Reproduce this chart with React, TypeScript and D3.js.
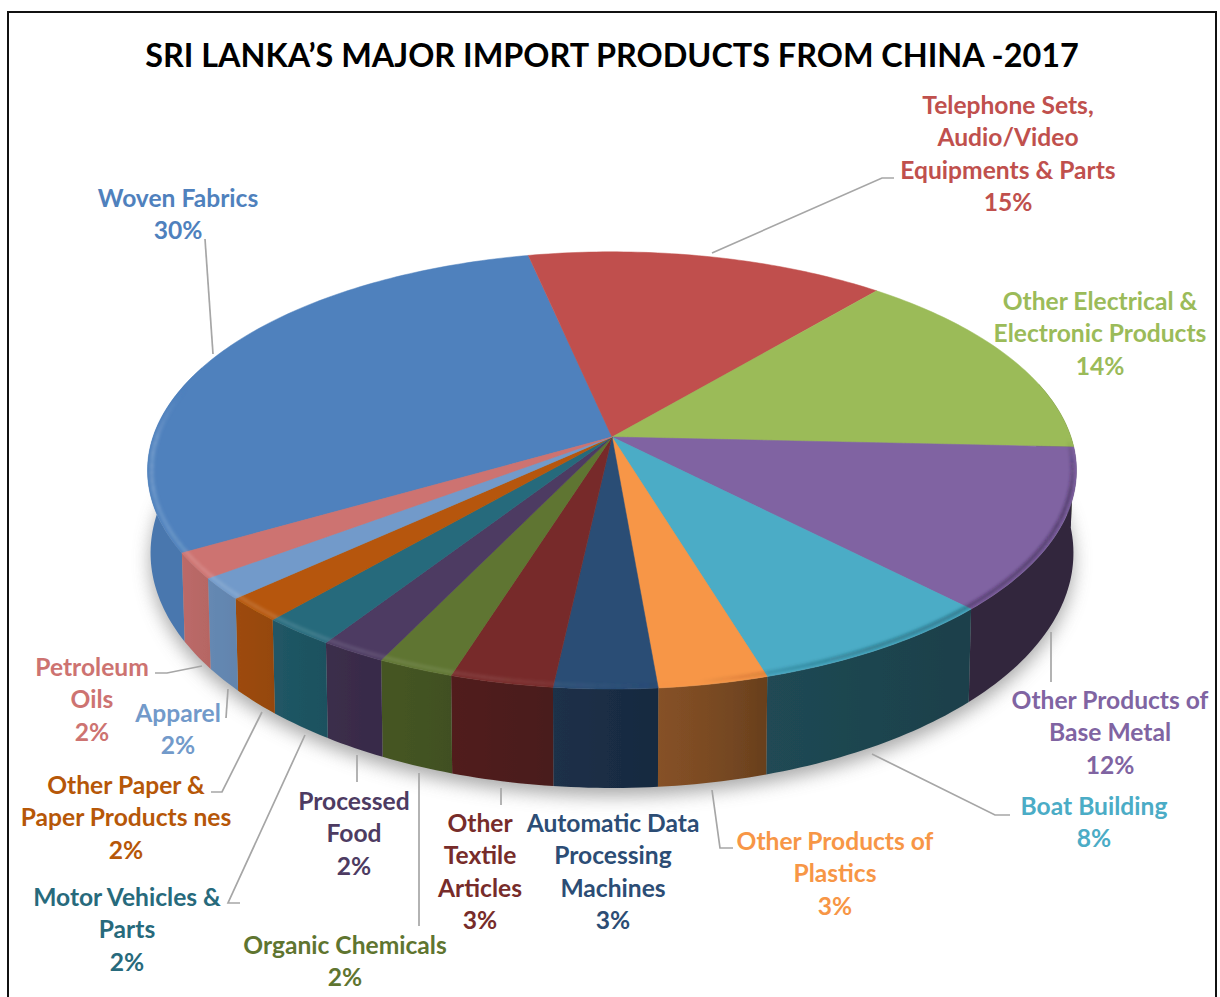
import { useMemo } from "react"
import * as d3 from "d3"

const categories = [
  "Woven Fabrics",
  "Telephone Sets, Audio/Video Equipments & Parts",
  "Other Electrical & Electronic Products",
  "Other Products of Base Metal",
  "Boat Building",
  "Other Products of Plastics",
  "Automatic Data Processing Machines",
  "Other Textile Articles",
  "Organic Chemicals",
  "Processed Food",
  "Motor Vehicles & Parts",
  "Other Paper & Paper Products nes",
  "Apparel",
  "Petroleum Oils",
]
// the printed labels are rounded
const shares = [30.0, 14.5, 14.6, 12.0, 7.6, 3.3, 3.1, 3.1, 2.3, 2.0, 2.2, 1.8, 1.6, 1.9]
const shareLabels = ["30%", "15%", "14%", "12%", "8%", "3%", "3%", "3%", "2%", "2%", "2%", "2%", "2%", "2%"]
const colors = [
  "#4f81bd", "#c0504d", "#9bbb59", "#8064a2", "#4bacc6", "#f79646", "#2c4d75",
  "#772c2a", "#5f7530", "#4d3b62", "#276a7c", "#b65708", "#729aca", "#cd7371",
]

// wrapped label lines, centre x and centre y of the first line
const labelLayout = [
  { lines: ["Woven Fabrics"], x: 178, y: 198 },
  { lines: ["Telephone Sets,", "Audio/Video", "Equipments & Parts"], x: 1008, y: 105 },
  { lines: ["Other Electrical &", "Electronic Products"], x: 1100, y: 301 },
  { lines: ["Other Products of", "Base Metal"], x: 1110, y: 700 },
  { lines: ["Boat Building"], x: 1094, y: 806 },
  { lines: ["Other Products of", "Plastics"], x: 835, y: 841 },
  { lines: ["Automatic Data", "Processing", "Machines"], x: 613, y: 823 },
  { lines: ["Other", "Textile", "Articles"], x: 480, y: 823 },
  { lines: ["Organic Chemicals"], x: 345, y: 945 },
  { lines: ["Processed", "Food"], x: 354, y: 801 },
  { lines: ["Motor Vehicles &", "Parts"], x: 127, y: 897 },
  { lines: ["Other Paper &", "Paper Products nes"], x: 126, y: 785 },
  { lines: ["Apparel"], x: 178, y: 713 },
  { lines: ["Petroleum", "Oils"], x: 92, y: 667 },
]

const leaders: [number, number][][] = [
  [[205, 239], [213, 354]],
  [[894, 178], [882, 178], [712, 253]],
  [[1051, 632], [1051, 682]],
  [[1010, 815], [995, 815], [872, 754]],
  [[733, 848], [720, 848], [712, 790]],
  [[501, 788], [501, 805]],
  [[419, 773], [419, 926]],
  [[357, 755], [357, 782]],
  [[240, 903], [228, 903], [305, 735]],
  [[211, 792], [222, 792], [262, 712]],
  [[226, 718], [228, 689]],
  [[155, 673], [167, 673], [202, 666]],
]

const W = 1220
const H = 997
const FONT = "Lato, 'Noto Sans', sans-serif"
const LINE = 32.5

// perspective projection of the disc, top face and bottom face
const k = 0.153
const topFace = { x0: 612, y0: 437, f: 459, g: 213.5 }
const bottomFace = { x0: 612, y0: 517, f: 456, g: 229.5 }
const rimFace = { x0: 612, y0: 437, f: 455, g: 210.5 }
type Face = typeof topFace

function project(a: number, face: Face): [number, number] {
  const u = Math.sin(a)
  const v = -Math.cos(a)
  const w = 1 - k * v
  return [face.x0 + (face.f * u) / w, face.y0 + (face.g * v) / w]
}

const deg = Math.PI / 180
const line = d3.line<[number, number]>()

function sample(a0: number, a1: number) {
  const n = Math.max(2, Math.ceil((a1 - a0) / deg))
  return d3.range(n + 1).map((i) => a0 + ((a1 - a0) * i) / n)
}

// how dark the side wall gets: lit on the left, in shadow on the right
const wallShade = d3
  .scaleLinear<number>()
  .domain([90, 140, 163, 170, 180, 200, 215, 225, 240, 270])
  .range([0.62, 0.62, 0.58, 0.5, 0.42, 0.3, 0.22, 0.15, 0.08, 0.08])
  .clamp(true)

const rimLight = d3
  .scaleLinear<number>()
  .domain([170, 190, 230, 270, 285])
  .range([0, 0.22, 0.45, 0.5, 0])
  .clamp(true)

const rimDark = d3
  .scaleLinear<number>()
  .domain([90, 105, 150, 172])
  .range([0, 0.6, 0.55, 0])
  .clamp(true)

const FRONT_FROM = 75
const FRONT_TO = 290

export default function App() {
  const arcs = useMemo(
    () =>
      d3
        .pie<number>()
        .sort(null)
        .startAngle(-120.1 * deg)
        .endAngle((360 - 120.1) * deg)(shares),
    [],
  )

  // part of each slice that faces the viewer, in degrees clockwise from the back
  const wallSpans = arcs
    .map((arc) => {
      const shift = arc.endAngle <= 0 ? 360 : 0
      const from = Math.max(arc.startAngle / deg + shift, FRONT_FROM)
      const to = Math.min(arc.endAngle / deg + shift, FRONT_TO)
      return { index: arc.index, from, to }
    })
    .filter((s) => s.from < s.to)

  return (
    <svg width={W} height={H} style={{ position: "absolute", left: 0, top: 0 }} fontFamily={FONT}>
      <defs>
        <filter id="shadow" x="-10%" y="-10%" width="120%" height="130%">
          <feGaussianBlur stdDeviation="9" />
        </filter>
        <filter id="rim" x="-5%" y="-5%" width="110%" height="110%">
          <feGaussianBlur stdDeviation="1.8" />
        </filter>
        <filter id="soft" x="-5%" y="-5%" width="110%" height="110%">
          <feGaussianBlur stdDeviation="0.6" />
        </filter>
        {wallSpans.map((s) => {
          const x0 = project(s.from * deg, topFace)[0]
          const x1 = project(s.to * deg, topFace)[0]
          return (
            <linearGradient key={s.index} id={`wall${s.index}`} gradientUnits="userSpaceOnUse" x1={x0} x2={x1} y1={0} y2={0}>
              {d3.range(7).map((j) => {
                const a = s.from + ((s.to - s.from) * j) / 6
                const off = x0 === x1 ? 0 : (project(a * deg, topFace)[0] - x0) / (x1 - x0)
                return (
                  <stop
                    key={j}
                    offset={off}
                    stopColor={d3.interpolateRgb(colors[s.index], "#000")(wallShade(a))}
                  />
                )
              })}
            </linearGradient>
          )
        })}
      </defs>

      <rect x={0} y={0} width={W} height={H} fill="#fff" />
      <path d="M8 997V12H1216V997" fill="none" stroke="#111" strokeWidth={2} />

      <text x={612} y={56} dy="0.35em" textAnchor="middle" fontSize={32.4} fontWeight={700} fill="#000">
        SRI LANKA’S MAJOR IMPORT PRODUCTS FROM CHINA -2017
      </text>

      {/* soft shadow under the disc */}
      <path
        d={line(sample(0, 2 * Math.PI).map((a) => project(a, { ...bottomFace, y0: bottomFace.y0 + 8 })))! + "Z"}
        fill="#8c8c8c"
        opacity={0.75}
        filter="url(#shadow)"
      />

      <g filter="url(#soft)">
        {wallSpans.map((s) => {
          const as = sample(s.from * deg, s.to * deg)
          const pts = [...as.map((a) => project(a, topFace)), ...[...as].reverse().map((a) => project(a, bottomFace))]
          return <path key={s.index} d={line(pts)! + "Z"} fill={`url(#wall${s.index})`} />
        })}
        {arcs.map((arc) => {
          const pts = sample(arc.startAngle, arc.endAngle).map((a) => project(a, topFace))
          return (
            <path
              key={arc.index}
              d={line([[topFace.x0, topFace.y0], ...pts])! + "Z"}
              fill={colors[arc.index]}
              stroke={colors[arc.index]}
              strokeWidth={0.5}
            />
          )
        })}
      </g>

      {/* rounded edge: light on the left, dark on the right */}
      <g filter="url(#rim)">
        {wallSpans.flatMap((s) => {
          const as = sample(s.from, s.to)
          return as.slice(1).map((a, i) => {
            const mid = (a + as[i]) / 2
            const dark = mid < 172
            return (
              <path
                key={`${s.index}-${i}`}
                d={line([project(as[i] * deg, rimFace), project(a * deg, rimFace)])!}
                fill="none"
                stroke={d3.interpolateRgb(colors[s.index], dark ? "#000" : "#fff")(dark ? 0.5 : 0.45)}
                strokeOpacity={dark ? rimDark(mid) : rimLight(mid)}
                strokeWidth={4}
              />
            )
          })
        })}
      </g>

      {leaders.map((pts, i) => (
        <path key={i} d={line(pts)!} fill="none" stroke="#a6a6a6" strokeWidth={1.7} />
      ))}

      {labelLayout.map((l, i) => (
        <text key={categories[i]} textAnchor="middle" fontSize={24.6} fontWeight={700} fill={colors[i]}>
          {[...l.lines, shareLabels[i]].map((t, j) => (
            <tspan key={j} x={l.x} y={l.y + j * LINE} dy="0.35em">
              {t}
            </tspan>
          ))}
        </text>
      ))}
    </svg>
  )
}
